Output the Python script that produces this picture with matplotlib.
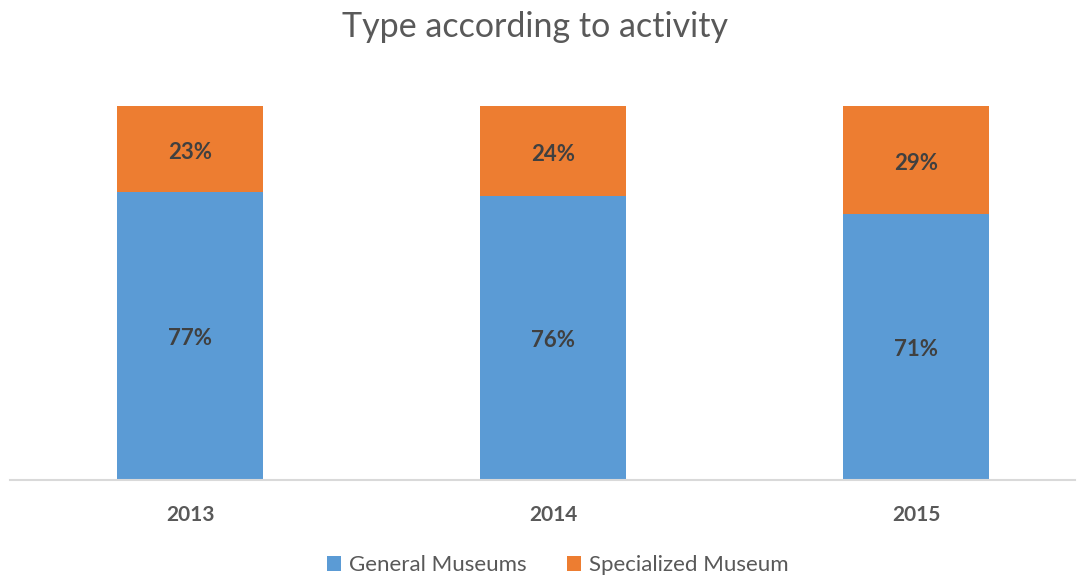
import numpy as np
import matplotlib.pyplot as plt

plt.rcParams['font.family'] = ['Lato', 'DejaVu Sans']

years = ['2013', '2014', '2015']
general = [77, 76, 71]
specialized = [23, 24, 29]

blue = '#5B9BD5'
orange = '#ED7D31'

fig = plt.figure(figsize=(10.85, 5.81), dpi=100)
ax = fig.add_axes([0.0092, 0.1738, 0.9816, 0.6438])

x = np.arange(len(years))
w = 0.40
b1 = ax.bar(x, general, w, color=blue, label='General Museums')
b2 = ax.bar(x, specialized, w, bottom=general, color=orange, label='Specialized Museum')

# etiquetas de porcentaje dentro de cada segmento
for i in range(len(years)):
    ax.text(x[i], general[i] / 2 - 0.6, f'{general[i]}%', ha='center', va='center',
            fontsize=16, fontweight='bold', color='#404040')
    ax.text(x[i], general[i] + specialized[i] / 2 - 1.0, f'{specialized[i]}%', ha='center',
            va='center', fontsize=16, fontweight='bold', color='#404040')

ax.set_xlim(-0.496, 2.438)
ax.set_ylim(0, 100)
ax.set_yticks([])
ax.set_xticks(x)
ax.set_xticklabels(years, fontsize=15, fontweight='bold', color='#595959')
ax.tick_params(axis='x', length=0, pad=18)
for s in ['top', 'right', 'left']:
    ax.spines[s].set_visible(False)
ax.spines['bottom'].set_color('#D9D9D9')
ax.spines['bottom'].set_linewidth(1.5)

fig.text(0.4935, 0.953, 'Type according to activity', ha='center', va='center',
         fontsize=24.5, color='#595959')

leg = fig.legend(handles=[b1, b2], loc='center', bbox_to_anchor=(0.514, 0.027), ncol=2,
                 frameon=False, fontsize=16, handlelength=0.65, handleheight=0.65,
                 columnspacing=1.8, handletextpad=0.35)
for t in leg.get_texts():
    t.set_color('#595959')

fig.savefig('out.png', dpi=100)
